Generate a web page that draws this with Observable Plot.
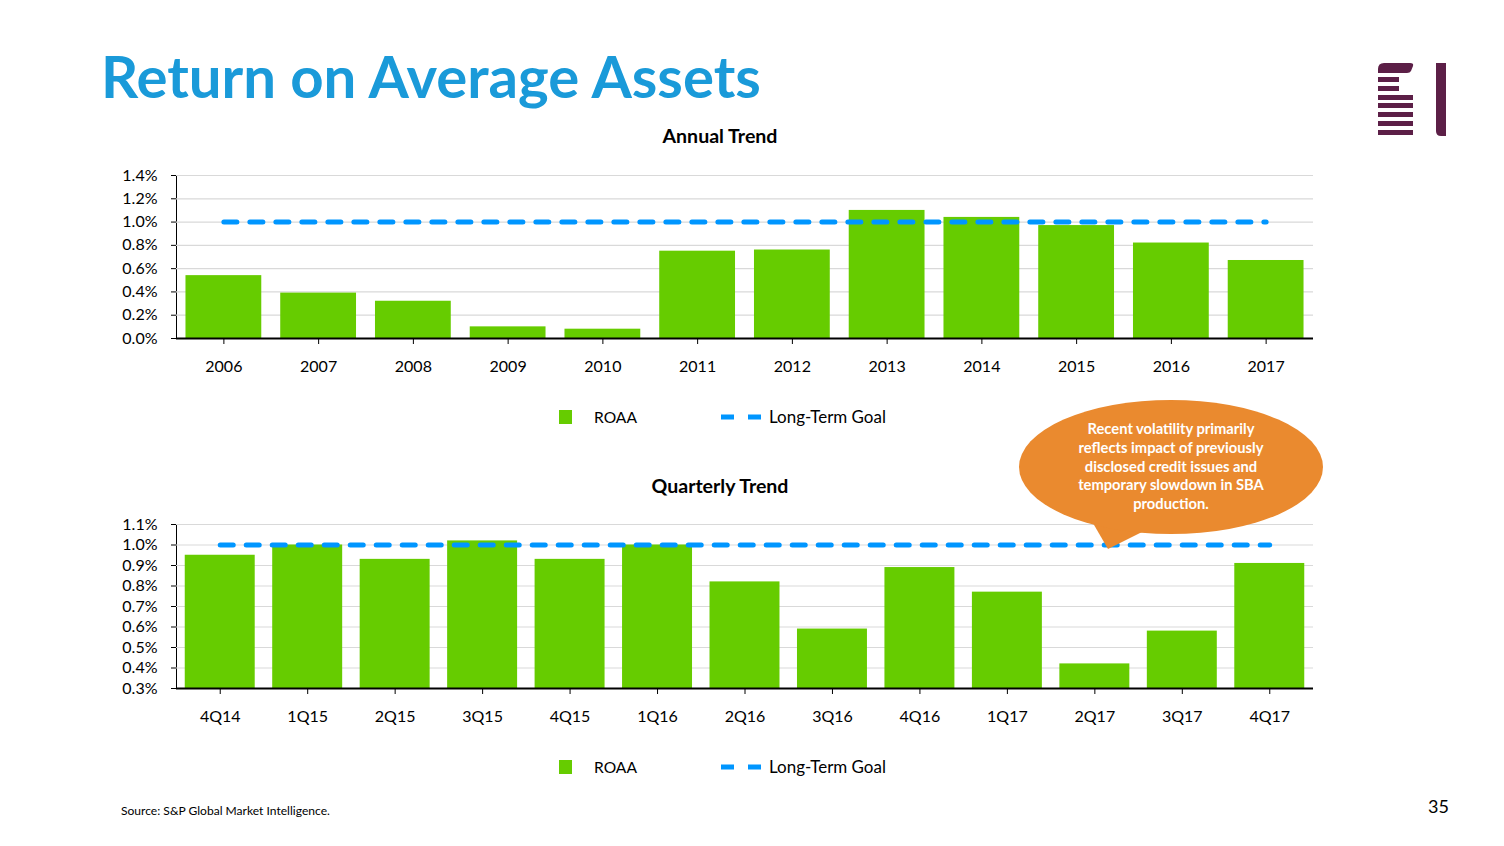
<!DOCTYPE html>
<html><head><meta charset="utf-8">
<script src="https://cdn.jsdelivr.net/npm/d3@7"></script>
<script src="https://cdn.jsdelivr.net/npm/@observablehq/plot@0.6"></script>
<style>
html,body{margin:0;padding:0;background:#fff;}
#page{position:relative;width:1504px;height:846px;overflow:hidden;background:#fff;}
.chart{position:absolute;left:0;}
#overlay{position:absolute;left:0;top:0;pointer-events:none;}
</style></head><body><div id="page"></div>
<script>
const FONT = "Lato, 'Open Sans', sans-serif";

// ---- Data ----
const years = ["2006","2007","2008","2009","2010","2011","2012","2013","2014","2015","2016","2017"];
const annualRoaa = [0.54,0.39,0.32,0.10,0.08,0.75,0.76,1.10,1.04,0.97,0.82,0.67];
const annualGoal = 1.0;
const annualTicks = [0,0.2,0.4,0.6,0.8,1.0,1.2,1.4];

const quarters = ["4Q14","1Q15","2Q15","3Q15","4Q15","1Q16","2Q16","3Q16","4Q16","1Q17","2Q17","3Q17","4Q17"];
const quarterlyRoaa = [0.95,1.00,0.93,1.02,0.93,1.00,0.82,0.59,0.89,0.77,0.42,0.58,0.91];
const quarterlyGoal = 1.0;
const quarterlyBase = 0.3;
const quarterlyTicks = [0.3,0.4,0.5,0.6,0.7,0.8,0.9,1.0,1.1];

const legendLabels = ["ROAA","Long-Term Goal"];
const calloutLines = ["Recent volatility primarily","reflects impact of previously","disclosed credit issues and","temporary slowdown in SBA","production."];

const GREEN = "#66cc00", BLUE = "#0096ff", GRID = "#d9d9d9";

const annual = years.map((k,i)=>({k, v: annualRoaa[i], goal: annualGoal}));
const quarterly = quarters.map((k,i)=>({k, v: quarterlyRoaa[i], goal: quarterlyGoal}));

function makeChart(data, domainX, yDomain, ticks, base, top, height, mt, mb) {
  const chart = Plot.plot({
    width: 1504, height,
    marginLeft: 176, marginRight: 191, marginTop: mt, marginBottom: mb,
    style: {fontFamily: FONT, fontSize: "16px", color: "#000", background: "transparent", overflow: "visible"},
    x: {domain: domainX, paddingInner: 0.2, paddingOuter: 0.1, round: false, label: null, tickSize: 6, tickPadding: 16},
    y: {domain: yDomain, ticks, tickFormat: d => d.toFixed(1) + "%", label: null, tickSize: 5, tickPadding: 14, line: true},
    marks: [
      Plot.ruleY(ticks, {stroke: GRID, strokeWidth: 1.2}),
      Plot.barY(data, {x: "k", y1: base, y2: "v", fill: GREEN}),
      Plot.ruleY([base], {stroke: "#000", strokeWidth: 2}),
      Plot.lineY(data, {x: "k", y: "goal", stroke: BLUE, strokeWidth: 5, strokeDasharray: "13,13"})
    ]
  });
  chart.classList.add("chart");
  chart.style.top = top + "px";
  document.getElementById("page").appendChild(chart);
}

makeChart(annual, years, [0, 1.4], annualTicks, 0, 165, 220, 10, 47);
makeChart(quarterly, quarters, [quarterlyBase, 1.1], quarterlyTicks, quarterlyBase, 514, 220, 10, 46);

// ---- Overlay: titles, legends, callout, logo, footer ----
const ov = d3.select("#page").append("svg").attr("id","overlay")
  .attr("width",1504).attr("height",846).style("font-family", FONT);

function fit(sel, w) {
  const el = sel.node();
  const cur = el.getComputedTextLength();
  const fs = parseFloat(sel.attr("font-size"));
  sel.attr("font-size", (fs * w / cur).toFixed(2));
  return sel;
}

fit(ov.append("text").attr("x",101).attr("y",98).attr("font-size",55).attr("font-weight",700)
  .attr("fill","#1a9ad9").text("Return on Average Assets"), 660);

fit(ov.append("text").attr("x",720).attr("y",143).attr("text-anchor","middle").attr("font-size",18)
  .attr("font-weight",700).attr("fill","#000").text("Annual Trend"), 115);
fit(ov.append("text").attr("x",720).attr("y",493).attr("text-anchor","middle").attr("font-size",18)
  .attr("font-weight",700).attr("fill","#000").text("Quarterly Trend"), 137);

function legend(cy) {
  ov.append("rect").attr("x",559).attr("y",cy-7).attr("width",13).attr("height",14).attr("fill",GREEN);
  fit(ov.append("text").attr("x",594).attr("y",cy+6).attr("font-size",16).attr("fill","#000").text(legendLabels[0]), 43);
  ov.append("line").attr("x1",721).attr("x2",761).attr("y1",cy).attr("y2",cy)
    .attr("stroke",BLUE).attr("stroke-width",5).attr("stroke-dasharray","13,14");
  fit(ov.append("text").attr("x",769).attr("y",cy+6).attr("font-size",16).attr("fill","#000").text(legendLabels[1]), 117);
}
legend(417);
legend(767);

// callout
const ORANGE = "#ea8a2f";
ov.append("path").attr("d","M1090,518 L1150,528 L1108,549 Z").attr("fill",ORANGE);
ov.append("ellipse").attr("cx",1171).attr("cy",467).attr("rx",152).attr("ry",67).attr("fill",ORANGE);
const cl = ov.append("g");
let cfs = 14;
calloutLines.forEach((t,i)=>{
  cl.append("text").attr("x",1171).attr("y",434 + i*18.8).attr("text-anchor","middle")
    .attr("font-size",cfs).attr("font-weight",700).attr("fill","#fff").text(t);
});
{
  const w = cl.select("text:nth-child(2)").node().getComputedTextLength();
  const nf = cfs * 185 / w;
  cl.selectAll("text").attr("font-size", nf.toFixed(2));
}

// footer
fit(ov.append("text").attr("x",121).attr("y",815).attr("font-size",11).attr("fill","#000")
  .text("Source: S&P Global Market Intelligence."), 209);
ov.append("text").attr("x",1449).attr("y",813).attr("text-anchor","end").attr("font-size",18)
  .attr("fill","#000").text("35");

// logo
const LOGO = "#5c1f47";
const lg = ov.append("g").attr("fill", LOGO);
lg.append("path").attr("d","M1384,63 H1410 Q1414,63 1413,66 L1411,71 Q1410,73 1407,73 H1378 V69 Q1378,63 1384,63 Z");
[[77,21],[86,21],[95,35],[103,35],[112,35],[121,35],[130,35]].forEach(([y,w])=>{
  lg.append("rect").attr("x",1378).attr("y",y).attr("width",w).attr("height",5);
});
lg.append("path").attr("d","M1436,63 H1446 V136 H1441 Q1436,136 1436,131 Z");
</script>
</body></html>
